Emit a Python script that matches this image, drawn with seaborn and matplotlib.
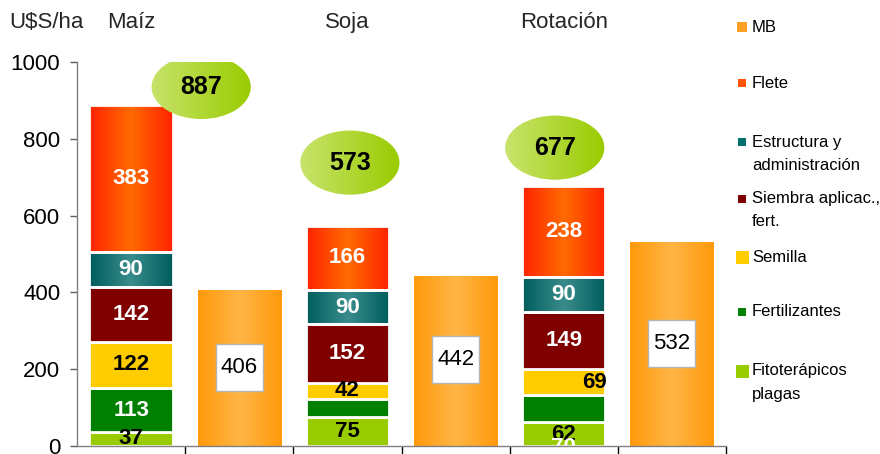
import numpy as np
import pandas as pd
import matplotlib
matplotlib.use("Agg")
import matplotlib.pyplot as plt
import matplotlib.transforms as mtransforms
import seaborn as sns
from matplotlib.patches import Ellipse, Rectangle
from matplotlib.colors import LinearSegmentedColormap

# -----------------------------
# Data (U$S/ha)
# -----------------------------
crops = ["Maíz", "Soja", "Rotación"]
fitoterapicos = [37, 75, 62]
fertilizantes = [113, 48, 70]
semilla = [122, 42, 69]
siembra = [142, 152, 149]
estructura = [90, 90, 90]
flete = [383, 166, 238]
mb = [406, 442, 532]
totals = [887, 573, 677]

legend_labels = ["MB", "Flete", "Estructura y\nadministración", "Siembra aplicac.,\nfert.",
                 "Semilla", "Fertilizantes", "Fitoterápicos\nplagas"]

# slots on the x axis: stacked costs, then MB bar, for each crop
slots = ["Maíz", "Maíz MB", "Soja", "Soja MB", "Rotación", "Rotación MB"]

sns.set_theme(style="white")
plt.rcParams["font.family"] = ["Liberation Sans", "DejaVu Sans"]

fig = plt.figure(figsize=(8.8, 4.54), dpi=100)
ax = fig.add_axes([0.0875, 0.0176, 0.7375, 0.8458])

cmap_mb = LinearSegmentedColormap.from_list("mb", ["#ffb545", "#ff9a0a"])
cmap_flete = LinearSegmentedColormap.from_list("flete", ["#ff6a00", "#ff2200"])
cmap_estr = LinearSegmentedColormap.from_list("estr", ["#3a8c8c", "#005c5c"])
cmap_ell = LinearSegmentedColormap.from_list("ell", ["#c8e36c", "#99cc00"])


def gradient_fill(patch, cmap):
    # horizontal gradient, lighter in the middle of the bar
    x0, y0 = patch.get_x(), patch.get_y()
    w, h = patch.get_width(), patch.get_height()
    grad = np.abs(np.linspace(-1, 1, 256))[None, :]
    im = ax.imshow(grad, cmap=cmap, extent=[x0, x0 + w, y0, y0 + h], aspect="auto",
                   origin="lower", interpolation="bilinear", zorder=0.9)
    im.set_clip_path(patch)
    patch.set_facecolor("none")


# -----------------------------
# Stacked cost bars
# -----------------------------
segments = [
    ("Fitoterápicos", fitoterapicos, "#99cc00", "black", None),
    ("Fertilizantes", fertilizantes, "#008000", "white", None),
    ("Semilla", semilla, "#ffcc00", "black", None),
    ("Siembra", siembra, "#800000", "white", None),
    ("Estructura", estructura, "#006666", "white", cmap_estr),
    ("Flete", flete, "#ff4400", "white", cmap_flete),
]

bottoms = np.zeros(len(crops))
for name, vals, color, txt_color, cmap in segments:
    df = pd.DataFrame({"slot": crops, "value": vals})
    sns.barplot(data=df, x="slot", y="value", order=slots, color=color, saturation=1,
                width=0.77, edgecolor="white", linewidth=2, errorbar=None, ax=ax)
    for patch in ax.containers[-1]:
        i = int(round(patch.get_x() + patch.get_width() / 2)) // 2
        patch.set_y(bottoms[i])
        if cmap is not None:
            gradient_fill(patch, cmap)
        xc = 2 * i
        yc = bottoms[i] + vals[i] / 2
        ha = "center"
        label = str(vals[i])
        # the original slide hides / misplaces a few labels
        if name == "Fertilizantes" and crops[i] == "Soja":
            label = ""
        if name == "Fertilizantes" and crops[i] == "Rotación":
            yc = -4
        if name == "Semilla" and crops[i] == "Rotación":
            xc, ha = xc + 0.4, "right"
        ax.text(xc, yc, label, ha=ha, va="center", fontsize=16, fontweight="bold",
                color=txt_color, zorder=5)
    bottoms += np.array(vals)

# -----------------------------
# MB bars
# -----------------------------
df_mb = pd.DataFrame({"slot": [c + " MB" for c in crops], "value": mb})
sns.barplot(data=df_mb, x="slot", y="value", order=slots, color="#ff9a0a", saturation=1,
            width=0.77, linewidth=0, errorbar=None, ax=ax)
for patch in ax.containers[-1]:
    gradient_fill(patch, cmap_mb)

box_y = [204, 225, 267]
for i, v in enumerate(mb):
    xc = 2 * i + 1
    ax.add_patch(Rectangle((xc - 0.218, box_y[i] - 61), 0.436, 122, facecolor="white",
                           edgecolor="#b4b4b4", linewidth=1, zorder=4))
    ax.text(xc, box_y[i], str(v), ha="center", va="center", fontsize=16, color="black", zorder=5)

# -----------------------------
# Total ellipses
# -----------------------------
ell_pos = [(0.648, 935), (2.023, 738), (3.917, 777)]
for (ex, ey), t in zip(ell_pos, totals):
    ell = Ellipse((ex, ey), 0.917, 167, facecolor="none", edgecolor="none", zorder=4)
    ax.add_patch(ell)
    im = ax.imshow(np.linspace(0, 1, 256)[None, :], cmap=cmap_ell, aspect="auto",
                   extent=[ex - 0.46, ex + 0.46, ey - 84, ey + 84], origin="lower",
                   interpolation="bilinear", zorder=4)
    im.set_clip_path(ell)
    ax.text(ex, ey, str(t), ha="center", va="center", fontsize=18, fontweight="bold",
            color="black", zorder=5)

# -----------------------------
# Axes styling
# -----------------------------
ax.set_xlim(-0.5, 5.5)
ax.set_ylim(0, 1000)
ax.set_xlabel("")
ax.set_ylabel("")
ax.set_xticks([0.5, 1.5, 2.5, 3.5, 4.5, 5.5])
ax.set_xticklabels([])
ax.set_yticks([0, 200, 400, 600, 800, 1000])
ax.tick_params(axis="x", direction="out", length=8, width=1, color="black", bottom=True)
ax.tick_params(axis="y", direction="out", length=5, width=1, color="#606060", left=True,
               labelsize=16, pad=7, labelcolor="black")
for side in ["top", "right"]:
    ax.spines[side].set_visible(False)
for side in ["left", "bottom"]:
    ax.spines[side].set_color("#808080")
    ax.spines[side].set_linewidth(1)
    ax.spines[side].set_zorder(6)

# titles above the plot
fig.text(0.053, 0.9515, "U$S/ha", ha="center", va="center", fontsize=16)
title_tf = mtransforms.blended_transform_factory(ax.transData, fig.transFigure)
for i, c in enumerate(crops):
    ax.text(2 * i, 0.9515, c, transform=title_tf, ha="center", va="center", fontsize=16)

# -----------------------------
# Legend (drawn by hand to match spacing)
# -----------------------------
leg_colors = ["#ffa124", "#ff5500", "#007070", "#800000", "#ffcc00", "#008000", "#99cc00"]
leg_sizes = [10, 8, 8, 8, 13, 8, 13]
leg_y = [27, 83, 142, 199, 257, 312, 371]
W, H = 880, 454
for col, s, y, lab in zip(leg_colors, leg_sizes, leg_y, legend_labels):
    fig.add_artist(Rectangle(((742 - s / 2) / W, 1 - (y + s / 2) / H), s / W, s / H,
                             facecolor=col, edgecolor="none", transform=fig.transFigure))
    for k, line in enumerate(lab.split("\n")):
        fig.text(752 / W, 1 - (y + 23 * k) / H, line, ha="left", va="center", fontsize=12,
                 color="black")

fig.savefig("out.png", dpi=100)
